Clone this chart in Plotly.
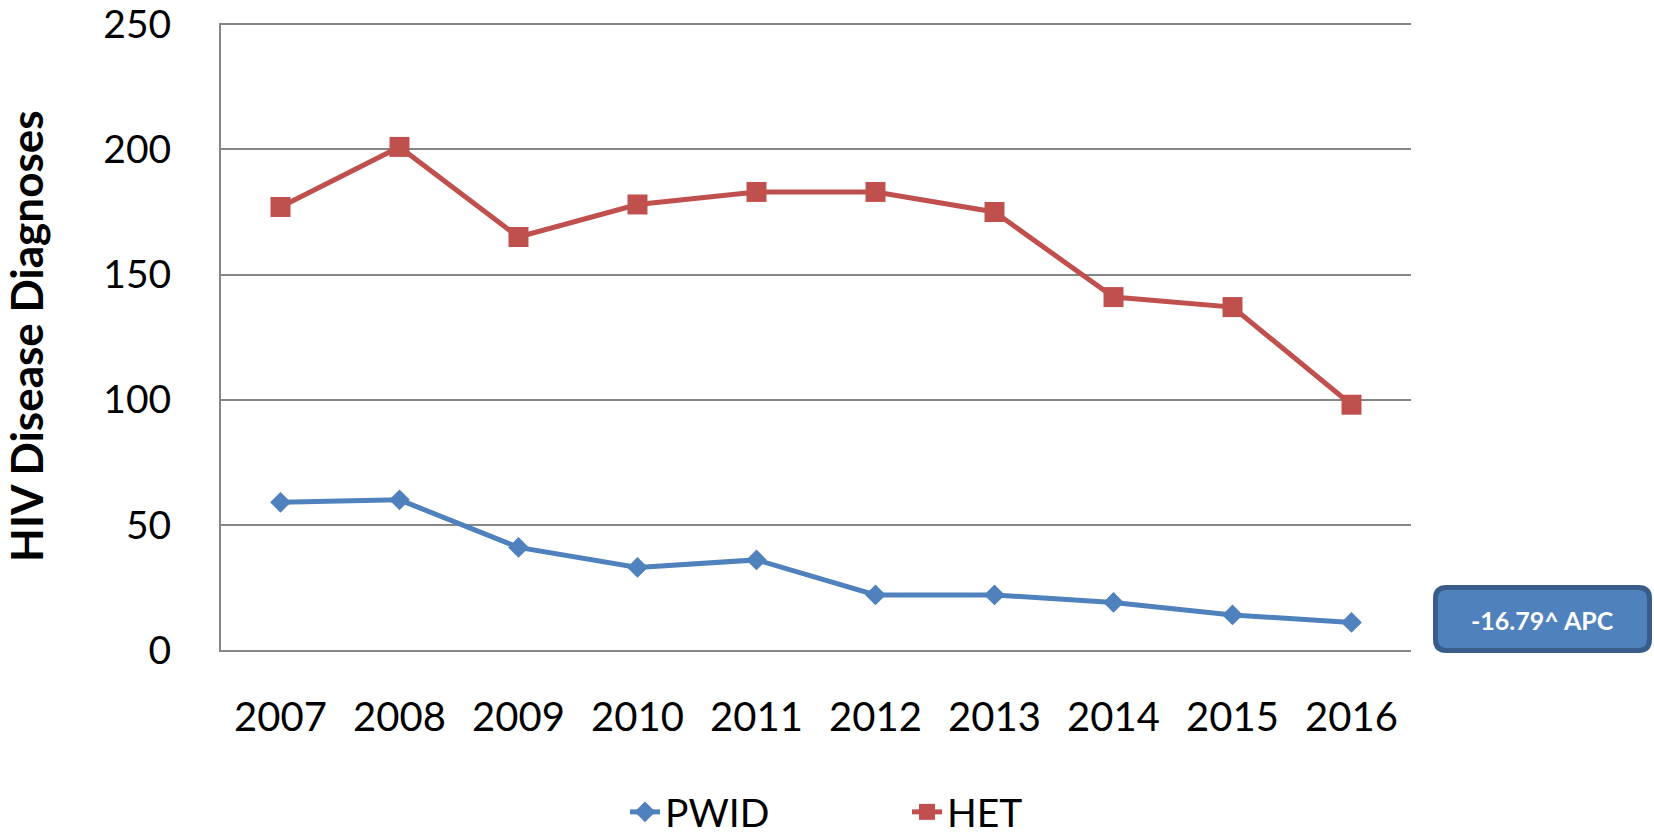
import plotly.graph_objects as go

years = ["2007", "2008", "2009", "2010", "2011", "2012", "2013", "2014", "2015", "2016"]
pwid = [59, 60, 41, 33, 36, 22, 22, 19, 14, 11]
het = [177, 201, 165, 178, 183, 183, 175, 141, 137, 98]
y_ticks = [0, 50, 100, 150, 200, 250]
y_title = "HIV Disease Diagnoses"
apc_label = "-16.79^ APC"

W, H = 1654, 837
L, R, T, B = 221, 1411, 23, 650
Y_MAX = 250.5

BLUE = "#4F81BD"
RED = "#C0504D"
GRID = "#868686"
FONT = "Lato"

fig = go.Figure()
fig.add_trace(go.Scatter(
    x=years, y=pwid, name="PWID", mode="lines+markers",
    line=dict(color=BLUE, width=5),
    marker=dict(symbol="diamond", size=16, color=BLUE),
))
fig.add_trace(go.Scatter(
    x=years, y=het, name="HET", mode="lines+markers",
    line=dict(color=RED, width=5),
    marker=dict(symbol="square", size=20, color=RED),
))

def px_x(p):
    return (p - L) / (R - L)

def px_y(p):
    return (B - p) / (B - T)

# rounded box for APC label
x0, x1 = px_x(1435.5), px_x(1649.5)
y1, y0 = px_y(587.5), px_y(650.5)
rx, ry = 11 / (R - L), 11 / (B - T)
path = (f"M {x0+rx},{y1} L {x1-rx},{y1} Q {x1},{y1} {x1},{y1-ry} "
        f"L {x1},{y0+ry} Q {x1},{y0} {x1-rx},{y0} L {x0+rx},{y0} "
        f"Q {x0},{y0} {x0},{y0+ry} L {x0},{y1-ry} Q {x0},{y1} {x0+rx},{y1} Z")
fig.add_shape(type="path", path=path, xref="paper", yref="paper",
              fillcolor=BLUE, line=dict(color="#385D8A", width=5), layer="above")

fig.add_annotation(text=f"<b>{apc_label}</b>", xref="paper", yref="paper",
                   x=px_x(1542), y=px_y(620), xanchor="center", yanchor="middle",
                   showarrow=False, font=dict(family=FONT, size=25, color="white"))

fig.add_annotation(text=f"<b>{y_title}</b>", xref="paper", yref="paper",
                   x=px_x(26), y=px_y(336), xanchor="center", yanchor="middle",
                   textangle=-90, showarrow=False,
                   font=dict(family=FONT, size=44, color="black"))

fig.update_layout(
    width=W, height=H,
    margin=dict(l=L, r=W - R, t=T, b=H - B, pad=0, autoexpand=False),
    paper_bgcolor="white", plot_bgcolor="white",
    font=dict(family=FONT, color="black"),
    showlegend=True,
    legend=dict(orientation="h", x=px_x(625), xanchor="left",
                y=px_y(812), yanchor="middle",
                font=dict(family=FONT, size=39, color="black"),
                entrywidth=237, entrywidthmode="pixels",
                bgcolor="rgba(0,0,0,0)", tracegroupgap=0),
    xaxis=dict(type="category", range=[-0.5, 9.5], showgrid=False,
               showline=True, linecolor=GRID, linewidth=2,
               ticks="", ticklabelstandoff=31,
               tickfont=dict(family=FONT, size=40, color="black"),
               fixedrange=True),
    yaxis=dict(range=[0, Y_MAX], tickvals=y_ticks, showgrid=True,
               gridcolor=GRID, gridwidth=2, zeroline=False,
               showline=True, linecolor=GRID, linewidth=2,
               ticks="", ticklabelstandoff=40, ticklabeloverflow="allow",
               tickfont=dict(family=FONT, size=39, color="black"),
               fixedrange=True),
)

fig.write_html("out.html", config={"displayModeBar": False},
               post_script="document.body.style.margin='0';document.body.style.overflow='hidden';")
